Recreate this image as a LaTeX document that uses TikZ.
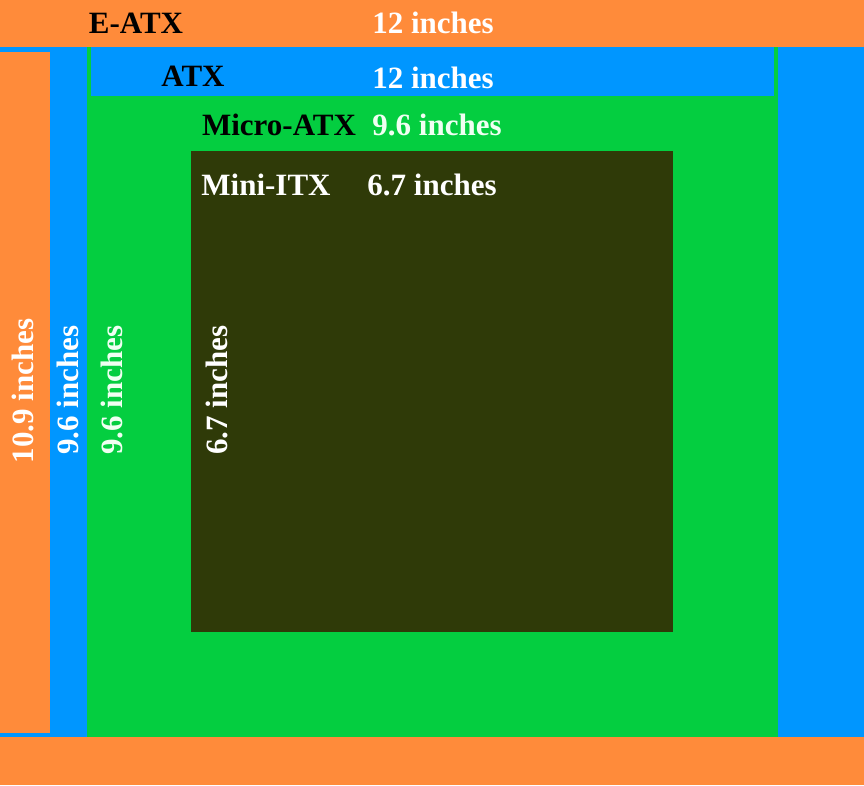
\documentclass[tikz,border=0pt]{standalone}
\usepackage{fontspec}
\setmainfont{Liberation Serif}
\definecolor{eatxorange}{HTML}{FF8B3A}
\definecolor{atxblue}{HTML}{0096FF}
\definecolor{matxgreen}{HTML}{04CE40}
\definecolor{itxdark}{HTML}{2F3A08}
\definecolor{palegreen}{HTML}{F0FFF2}
\begin{document}
\begin{tikzpicture}[x=1pt, y=-1pt,
    label/.style={inner sep=0pt, anchor=base, font=\fontsize{31}{33}\selectfont\bfseries},
    side/.style={label, rotate=90}]
    \useasboundingbox (0,0) rectangle (864,785);

    % Define boards
    \fill[eatxorange] (0,0) rectangle (864,785);
    \fill[atxblue] (0,47) rectangle (864,737);
    \fill[eatxorange] (0,52) rectangle (50,733);
    \fill[matxgreen] (87,47) rectangle (778,737);
    \fill[atxblue] (91,47) rectangle (774,96);
    \fill[itxdark] (191,151) rectangle (673,632);

    % Board names
    \node[label, black] (eatx) at (136,33) {E-ATX};
    \node[label, black] (atx) at (193,86) {ATX};
    \node[label, black] (matx) at (279,135) {Micro-ATX};
    \node[label, white] (itx) at (266,195) {Mini-ITX};

    % Widths
    \node[label, white] (eatxw) at (433,33) {12 inches};
    \node[label, white] (atxw) at (433,88) {12 inches};
    \node[label, palegreen] (matxw) at (437,135) {9.6 inches};
    \node[label, white] (itxw) at (432,195) {6.7 inches};

    % Heights
    \node[side, white] (eatxh) at (33,391) {10.9 inches};
    \node[side, white] (atxh) at (78,390) {9.6 inches};
    \node[side, palegreen] (matxh) at (122,390) {9.6 inches};
    \node[side, white] (itxh) at (227,390) {6.7 inches};

\end{tikzpicture}
\end{document}
